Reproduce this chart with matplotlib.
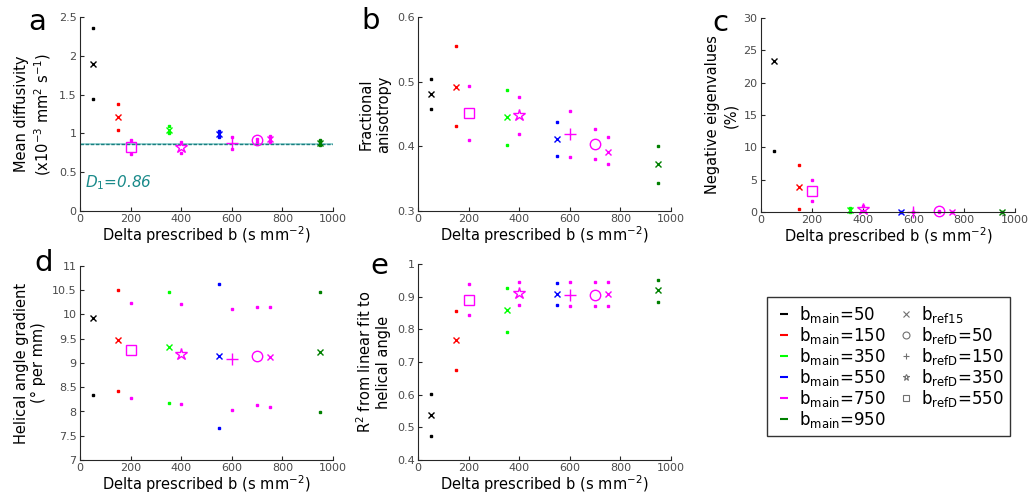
import matplotlib
matplotlib.use("Agg")
import matplotlib.pyplot as plt
from matplotlib.lines import Line2D
import numpy as np

# delta prescribed b for each condition
labels = ["m50", "m150", "m350", "m550", "m750_ref15", "m750_refD50",
          "m750_refD150", "m750_refD350", "m750_refD550", "m950"]
delta_b = [50, 150, 350, 550, 750, 700, 600, 400, 200, 950]
colors = ["k", "#ff0000", "#00ff00", "#0000ff", "#ff00ff", "#ff00ff",
          "#ff00ff", "#ff00ff", "#ff00ff", "#008000"]
markers = ["x", "x", "x", "x", "x", "o", "+", "*", "s", "x"]
msizes = [5, 5, 5, 5, 5, 7.5, 9, 9, 6.5, 5]

# panel a: mean diffusivity (centre, upper, lower)
md_mid = [1.90, 1.21, 1.05, 0.99, 0.93, 0.91, 0.87, 0.83, 0.82, 0.88]
md_hi = [2.36, 1.38, 1.09, 1.03, 0.97, 0.93, 0.96, 0.89, 0.91, 0.91]
md_lo = [1.445, 1.04, 1.01, 0.95, 0.89, 0.89, 0.80, 0.75, 0.74, 0.85]
D1 = 0.86

# panel b: fractional anisotropy
fa_mid = [0.481, 0.4925, 0.445, 0.412, 0.392, 0.404, 0.419, 0.448, 0.452, 0.372]
fa_hi = [0.504, 0.555, 0.487, 0.438, 0.414, 0.427, 0.455, 0.477, 0.494, 0.401]
fa_lo = [0.458, 0.431, 0.402, 0.385, 0.372, 0.381, 0.383, 0.419, 0.410, 0.343]

# panel c: negative eigenvalues (%)
ne_mid = [23.4, 3.9, 0.3, 0.0, 0.0, 0.1, 0.0, 0.5, 3.3, 0.0]
ne_hi = [37.4, 7.3, 0.6, 0.05, 0.05, 0.2, 0.05, 0.9, 4.9, 0.05]
ne_lo = [9.4, 0.5, 0.0, 0.0, 0.0, 0.0, 0.0, 0.1, 1.7, 0.0]

# panel d: helical angle gradient
ha_mid = [9.93, 9.47, 9.32, 9.14, 9.13, 9.14, 9.08, 9.19, 9.26, 9.23]
ha_hi = [11.51, 10.51, 10.47, 10.63, 10.15, 10.15, 10.12, 10.21, 10.24, 10.47]
ha_lo = [8.33, 8.43, 8.17, 7.65, 8.09, 8.14, 8.04, 8.15, 8.28, 7.99]

# panel e: R^2 of linear fit
r2_mid = [0.538, 0.766, 0.859, 0.908, 0.907, 0.906, 0.906, 0.910, 0.891, 0.919]
r2_hi = [0.601, 0.855, 0.927, 0.941, 0.944, 0.944, 0.944, 0.946, 0.938, 0.952]
r2_lo = [0.473, 0.676, 0.791, 0.873, 0.872, 0.872, 0.871, 0.875, 0.843, 0.885]

main_b = [50, 150, 350, 550, 750, 950]
main_colors = ["k", "#ff0000", "#00ff00", "#0000ff", "#ff00ff", "#008000"]
ref_names = ["ref15", "refD=50", "refD=150", "refD=350", "refD=550"]
ref_markers = ["x", "o", "+", "*", "s"]

W, H = 1031, 495
fig = plt.figure(figsize=(W / 100, H / 100), dpi=100)
tick_col = "#4a4a4a"


def make_axes(l, r, t, b):
    ax = fig.add_axes([l / W, 1 - b / H, (r - l) / W, (b - t) / H])
    ax.spines["top"].set_visible(False)
    ax.spines["right"].set_visible(False)
    ax.tick_params(direction="in", labelsize=8, colors="#262626", length=3,
                   labelcolor=tick_col, pad=2.5)
    ax.spines["left"].set_color("#262626")
    ax.spines["bottom"].set_color("#262626")
    return ax


def draw_panel(ax, mid, hi, lo, ylim):
    for i in range(len(delta_b)):
        ax.plot(delta_b[i], mid[i], marker=markers[i], color=colors[i],
                ms=msizes[i], mfc="none", mew=1.0, ls="none", clip_on=False)
        for v in (hi[i], lo[i]):
            if ylim[0] <= v <= ylim[1]:
                ax.plot(delta_b[i], v, marker="s", color=colors[i], ms=1.6,
                        ls="none", clip_on=False)


def finish(ax, ylim, yticks, ylabel, ytl=None):
    ax.set_xlim(0, 1000)
    ax.set_ylim(*ylim)
    ax.set_xticks([0, 200, 400, 600, 800, 1000])
    ax.set_yticks(yticks)
    if ytl is not None:
        ax.set_yticklabels(ytl)
    ax.set_xlabel(r"Delta prescribed b (s mm$^{\mathregular{-2}}$)", fontsize=10.5,
                  labelpad=0)
    ax.set_ylabel(ylabel, fontsize=10.5, labelpad=4)


def letter(x, y, s):
    fig.text(x / W, 1 - y / H, s, fontsize=21, ha="center", va="center")


ylim = (0, 2.5)
ax = make_axes(80, 333, 17, 211)
ax.axhline(D1, color="#8fd0d0", lw=1.2)
ax.axhline(D1, color="#1a7f7f", lw=1.0, ls=(0, (2.5, 1.2)))
draw_panel(ax, md_mid, md_hi, md_lo, ylim)
finish(ax, ylim, [0, 0.5, 1, 1.5, 2, 2.5],
       "Mean diffusivity\n" + r"(x10$^{\mathregular{-3}}$ mm$^{\mathregular{2}}$ s$^{\mathregular{-1}}$)",
       ["0", "0.5", "1", "1.5", "2", "2.5"])
ax.text(20, 0.3, r"$\mathit{D_1}$=0.86", color="#1a8a8a", fontsize=11,
        style="italic")
letter(37, 22, "a")

ylim = (0.3, 0.6)
ax = make_axes(418, 671, 17, 211)
draw_panel(ax, fa_mid, fa_hi, fa_lo, ylim)
finish(ax, ylim, [0.3, 0.4, 0.5, 0.6], "Fractional\nanisotropy")
letter(371, 21, "b")

ylim = (0, 30)
ax = make_axes(761, 1015, 18, 212)
draw_panel(ax, ne_mid, ne_hi, ne_lo, ylim)
finish(ax, ylim, [0, 5, 10, 15, 20, 25, 30], "Negative eigenvalues\n(%)")
letter(720, 23, "c")

ylim = (7, 11)
ax = make_axes(80, 333, 266, 460)
draw_panel(ax, ha_mid, ha_hi, ha_lo, ylim)
finish(ax, ylim, [7, 7.5, 8, 8.5, 9, 9.5, 10, 10.5, 11],
       "Helical angle gradient\n(° per mm)",
       ["7", "7.5", "8", "8.5", "9", "9.5", "10", "10.5", "11"])
letter(44, 263, "d")

ylim = (0.4, 1.0)
ax = make_axes(418, 671, 264, 460)
draw_panel(ax, r2_mid, r2_hi, r2_lo, ylim)
finish(ax, ylim, [0.4, 0.5, 0.6, 0.7, 0.8, 0.9, 1.0],
       r"R$^{\mathregular{2}}$ from linear fit to" + "\nhelical angle",
       ["0.4", "0.5", "0.6", "0.7", "0.8", "0.9", "1"])
letter(379, 266, "e")

# legend
handles = []
for b, c in zip(main_b, main_colors):
    handles.append(Line2D([0], [0], color=c, marker="_", ms=6, mew=1.5,
                          ls="none",
                          label=r"b$_{\mathregular{main}}$=%d" % b))
for n, m in zip(ref_names, ref_markers):
    parts = n.split("=")
    lab = r"b$_{\mathregular{%s}}$" % parts[0]
    if len(parts) > 1:
        lab += "=" + parts[1]
    handles.append(Line2D([0], [0], color="#707070", marker=m, ls="none",
                          ms=5, mfc="none", mew=0.8, label=lab))
leg = fig.legend(handles=handles, ncol=2, loc="upper left",
                 bbox_to_anchor=(767 / W, 1 - 297 / H), fontsize=12,
                 frameon=True, fancybox=False, edgecolor="k",
                 handlelength=1.2, handletextpad=0.3, columnspacing=0.6,
                 labelspacing=0.0, borderpad=0.4, borderaxespad=0)
leg.get_frame().set_linewidth(1.0)

fig.savefig("out.png", dpi=100)
